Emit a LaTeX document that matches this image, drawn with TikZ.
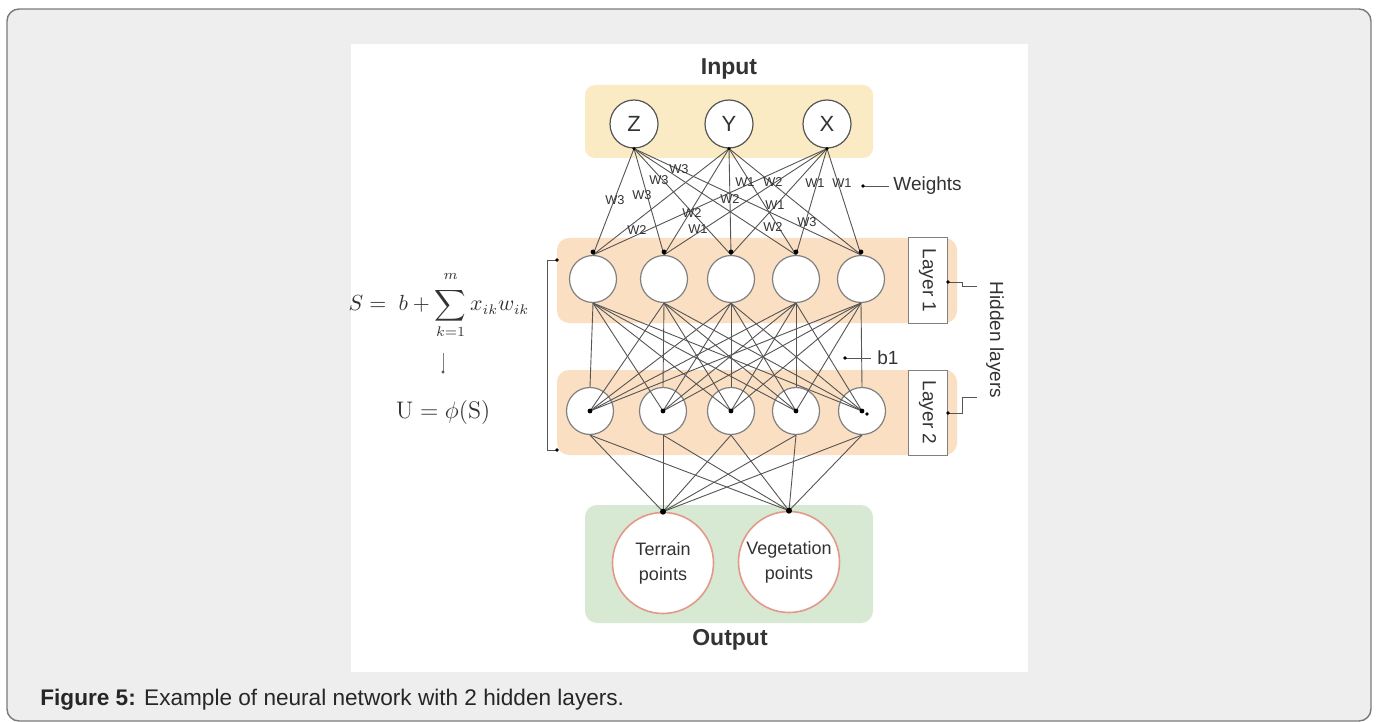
\documentclass[tikz,border=0pt]{standalone}
\usepackage{amsmath}
\usepackage[no-math]{fontspec}
\setmainfont{Liberation Sans}
\definecolor{framefill}{HTML}{EEEEEE}
\definecolor{framedraw}{HTML}{7A7A7A}
\definecolor{inbox}{HTML}{FBEBC4}
\definecolor{hidbox}{HTML}{FADFC3}
\definecolor{outbox}{HTML}{D7E9D3}
\definecolor{linec}{HTML}{555555}
\definecolor{outring}{HTML}{E3998A}
\definecolor{txt}{HTML}{333333}
\begin{document}
\begin{tikzpicture}[x=0.5pt,y=-0.5pt,
  conn/.style={draw=linec, line width=0.45pt},
  dotc/.style={fill=black, circle, inner sep=0pt, minimum size=2.4pt},
  innode/.style={circle, draw=linec, fill=white, line width=0.6pt, minimum size=24pt, inner sep=0pt, text=txt, font=\fontsize{11}{13}\selectfont},
  hnode/.style={circle, draw=gray, fill=white, line width=0.6pt, minimum size=23.5pt, inner sep=0pt},
  onode/.style={circle, draw=outring, fill=white, line width=0.8pt, minimum size=50.5pt, inner sep=0pt, align=center, text=txt, font=\fontsize{9}{12.5}\selectfont},
  laybox/.style={draw=gray, fill=white, line width=0.5pt, rotate=-90, minimum width=42.5pt, minimum height=19.5pt, inner sep=0pt, text=txt, font=\fontsize{9.5}{11}\selectfont},
  wlab/.style={text=txt, inner sep=0.3pt, font=\fontsize{6.4}{6.4}\selectfont},
  lbl/.style={text=txt, font=\fontsize{9.5}{11}\selectfont},
  ttl/.style={text=txt, font=\bfseries\fontsize{11.5}{13}\selectfont}
]
\useasboundingbox (0,0) rectangle (1378,722);
% frame and white panel
\draw[fill=framefill, draw=framedraw, line width=0.7pt, rounded corners=6pt] (7,9) rectangle (1371,721);
\fill[white] (351,44) rectangle (1028,672);
% layer boxes
\fill[inbox, rounded corners=5pt] (585,85) rectangle (873,158);
\fill[hidbox, rounded corners=6pt] (557,238) rectangle (957,323);
\fill[hidbox, rounded corners=6pt] (557,370) rectangle (957,455);
\fill[outbox, rounded corners=6pt] (585,505) rectangle (873,623);
% titles
\node[ttl] (intitle) at (729,69) {Input};
\node[ttl] (outtitle) at (730,640) {Output};
% nodes
\node[innode] (z) at (634,124) {Z};
\node[innode] (y) at (729,124) {Y};
\node[innode] (x) at (827,124) {X};
\foreach \i/\xx in {1/593,2/664,3/731,4/796,5/861}
  \node[hnode] (a\i) at (\xx,279) {};
\foreach \i/\xx in {1/590,2/663,3/731,4/796,5/862}
  \node[hnode] (b\i) at (\xx,411) {};
\node[onode] (t) at (663,563) {Terrain\\points};
\node[onode] (v) at (789,562) {Vegetation\\points};
% connections input -> layer 1
\foreach \s in {z,y,x}{
  \foreach \i in {1,...,5}
    \draw[conn] (\s.south) -- (a\i.north);
  \node[dotc, minimum size=1.8pt] at (\s.south) {};
}
\foreach \i in {1,...,5}
  \node[dotc] at ([yshift=1.5pt]a\i.north) {};
% layer 1 -> layer 2
\foreach \i in {1,...,5}{
  \foreach \j in {1,...,5}{
    \ifnum\i=\j
      \draw[conn] (a\i.south) -- (b\j.north);
    \else
      \draw[conn] (a\i.south) -- (b\j.center);
    \fi
  }
}
\foreach \j in {1,...,5}
  \node[dotc] at (b\j.center) {};
\node[dotc, minimum size=1.8pt] at ([xshift=2.5pt,yshift=-1.5pt]b5.center) {};
% layer 2 -> output
\foreach \j in {1,...,5}{
  \draw[conn] (b\j.south) -- (t.north);
  \draw[conn] (b\j.south) -- (v.north);
}
\node[dotc, minimum size=3pt] at (t.north) {};
\node[dotc, minimum size=3pt] at (v.north) {};
% weight labels
\foreach \xx/\yy/\tt [count=\n] in {615/200/W3, 642/195/W3, 659/180/W3, 679/169/W3,
   745/182/W1, 773/182/W2, 815/183/W1, 842/183/W1, 730/199/W2, 775/205/W1,
   692/213/W2, 637/230/W2, 698/229/W1, 773/227/W2, 807/222/W3}
  \node[wlab] (w\n) at (\xx,\yy) {\tt};
% weights pointer
\node[lbl, anchor=west, inner sep=2pt] (wt) at (889,186) {Weights};
\coordinate (wd) at (863,186);
\draw[conn] (wd) -- (wt.west);
\node[dotc, minimum size=1.8pt] at (wd) {};
% b1 pointer
\node[lbl, anchor=west, inner sep=3pt] (bl) at (871,358) {b1};
\coordinate (bd) at (845,358);
\draw[conn] (bd) -- (bl.west);
\node[dotc, minimum size=1.8pt] at (bd) {};
% layer label boxes
\node[laybox] (lab1) at (927.5,280.5) {Layer 1};
\node[laybox] (lab2) at (927.5,412.5) {Layer 2};
\node[lbl, rotate=-90] (hid) at (995,340) {Hidden layers};
\coordinate (l1d) at (948,282);
\coordinate (l1e) at (977,286);
\coordinate (l2d) at (948,413);
\coordinate (l2e) at (977,397);
\draw[conn] (l1d) -- ++(14,0) |- (l1e);
\draw[conn] (l2d) -- ++(14,0) |- (l2e);
\node[dotc, minimum size=1.8pt] at (l1d) {};
\node[dotc, minimum size=1.8pt] at (l2d) {};
% left bracket
\coordinate (bt) at (557,260);
\coordinate (bb) at (557,450);
\draw[conn] (bt) -- ++(-10,0) -- ++(0,190) -- (bb);
\node[dotc, minimum size=1.8pt] at (bt) {};
\node[dotc, minimum size=1.8pt] at (bb) {};
% formulas
\node[text=txt, font=\fontsize{10.6}{13}\selectfont] (f1) at (439,305)
  {$S =\; b + \displaystyle\sum_{k=1}^{\raisebox{2pt}{$\scriptstyle m$}} x_{ik} w_{ik}$};
\node[text=txt, font=\fontsize{12.5}{14}\selectfont] (f2) at (443,412)
  {$\mathrm{U} = \phi(\mathrm{S})$};
\coordinate (fa) at (443,353);
\coordinate (fb) at (443,372);
\draw[draw=gray, line width=0.4pt] (fa) -- (fb);
\node[dotc, minimum size=1.6pt, fill=linec] at (fb) {};
% caption
\node[anchor=base west, inner sep=0pt, text=black!85, font=\fontsize{11.3}{13}\selectfont] (cap) at (40,705)
  {\textbf{Figure 5:} Example of neural network with 2 hidden layers.};
\end{tikzpicture}
\end{document}
